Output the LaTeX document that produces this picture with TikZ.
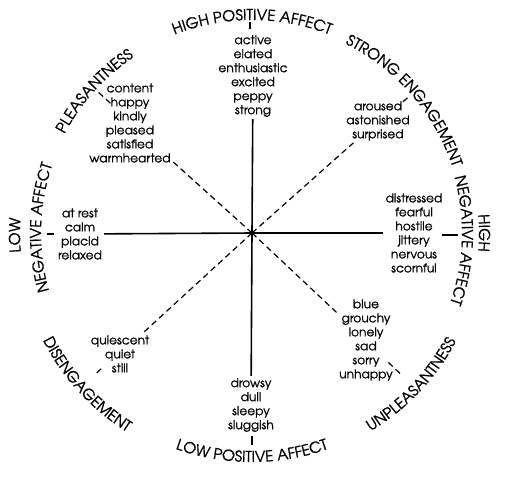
\documentclass[tikz,border=0pt]{standalone}
\usepackage{fontspec}
\setmainfont{TeX Gyre Adventor}[FakeBold=0.9]
\usepackage{tikz}
\usetikzlibrary{decorations.text}
\newcommand\wordfont{\fontsize{12.2}{14}\selectfont}
\newcommand\capfont{\fontsize{15}{16}\selectfont}
\tikzset{
  words/.style={align=center,font=\wordfont,inner sep=2pt},
  axisline/.style={line width=1.6pt},
  diagline/.style={line width=1.2pt,dash pattern=on 6pt off 4pt},
  ticksolid/.style={line width=1.3pt},
  arclbl/.style={decorate,decoration={text along path,text align=center,
                 text={|\capfont|#1}}},
}

\begin{document}
\begin{tikzpicture}[x=1pt,y=1pt]
  \useasboundingbox(-252,-247)rectangle(253,233);
  \coordinate(c)at(0,0);

  % Word clusters
  \node[words](hpa)at(1,157){active\\elated\\enthusiastic\\excited\\peppy\\strong};
  \node[words](sen)at(126,112){aroused\\astonished\\surprised};
  \node[words](hna)at(162,0){distressed\\fearful\\hostile\\jittery\\nervous\\scornful};
  \node[words](upl)at(114,-107){blue\\grouchy\\lonely\\sad\\sorry\\unhappy};
  \node[words](lpa)at(-1,-172){drowsy\\dull\\sleepy\\sluggish};
  \node[words](dis)at(-132,-121){quiescent\\quiet\\still};
  \node[words](lna)at(-172,-1){at rest\\calm\\placid\\relaxed};
  \node[words](plz)at(-122,110){content\\happy\\kindly\\pleased\\satisfied\\warmhearted};

  % Axes and diagonals
  \draw[axisline](c)--(hpa);
  \draw[axisline](c)--(lpa);
  \draw[axisline](c)--(hna);
  \draw[axisline](c)--(lna);
  \draw[diagline](c)--(sen);
  \draw[diagline](c)--(upl);
  \draw[diagline](c)--(dis);
  \draw[diagline](c)--(plz);
  \fill(c)circle(2.5);

  % Ticks next to the labels
  \coordinate(t1a)at(-2,204);\coordinate(t1b)at(-2,211);
  \coordinate(t2a)at(0,-203);\coordinate(t2b)at(0,-212);
  \coordinate(t3a)at(-205,-1);\coordinate(t3b)at(-198,-1);
  \coordinate(t4a)at(190,-2);\coordinate(t4b)at(206,-2);
  \foreach \a/\b in {t1a/t1b,t2a/t2b,t3a/t3b,t4a/t4b}
    \draw[ticksolid](\a)--(\b);
  \coordinate(t5a)at(137.5:192);\coordinate(t5b)at(137.5:212);
  \coordinate(t6a)at(41:200);\coordinate(t6b)at(41:209);
  \coordinate(t7a)at(-43.5:188);\coordinate(t7b)at(-43.5:207);
  \coordinate(t8a)at(222:203);\coordinate(t8b)at(222:211);
  \foreach \a/\b in {t5a/t5b,t6a/t6b,t7a/t7b,t8a/t8b}
    \draw[diagline](\a)--(\b);

  % Curved labels
  \path[arclbl={HIGH POSITIVE AFFECT}](125:213)arc[start angle=125,end angle=55,radius=213];
  \path[arclbl={STRONG ENGAGEMENT}](76:211)arc[start angle=76,end angle=6,radius=211];
  \path[arclbl={HIGH}](20:227)arc[start angle=20,end angle=-20,radius=227];
  \path[arclbl={NEGATIVE AFFECT}](30:210)arc[start angle=30,end angle=-34,radius=210];
  \path[arclbl={UNPLEASANTNESS}](-78:231)arc[start angle=-78,end angle=-9,radius=231];
  \path[arclbl={LOW POSITIVE AFFECT}](235:229)arc[start angle=235,end angle=305,radius=229];
  \path[arclbl={DISENGAGEMENT}](188:235)arc[start angle=188,end angle=257,radius=235];
  \path[arclbl={LOW}](200:232)arc[start angle=200,end angle=161,radius=232];
  \path[arclbl={NEGATIVE AFFECT}](210:211)arc[start angle=210,end angle=147,radius=211];
  \path[arclbl={PLEASANTNESS}](173:212)arc[start angle=173,end angle=103,radius=212];
\end{tikzpicture}
\end{document}
